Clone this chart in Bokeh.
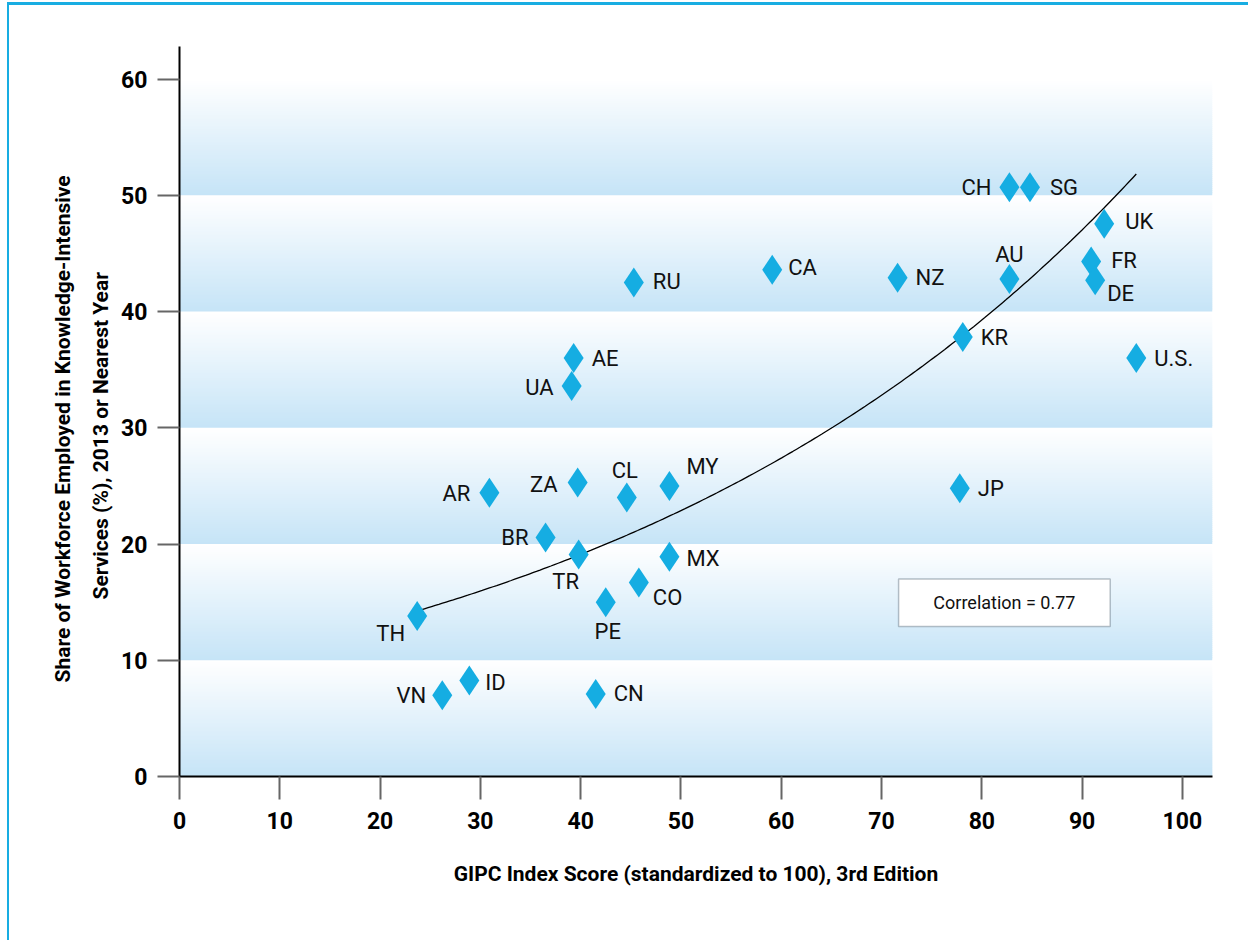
import numpy as np
from bokeh.plotting import figure
from bokeh.models import ColumnDataSource, FixedTicker, Label, BoxAnnotation, Title
from bokeh.core.properties import value, field
from bokeh.embed import file_html
from bokeh.resources import INLINE

# ---------------- data ----------------
countries = ["CH", "SG", "UK", "AU", "FR", "DE", "NZ", "CA", "RU", "KR", "U.S.",
             "AE", "UA", "JP", "AR", "ZA", "CL", "MY", "BR", "TR", "MX", "CO",
             "PE", "TH", "VN", "ID", "CN"]
gipc_score = [82.75, 84.8, 92.2, 82.75, 90.9, 91.3, 71.6, 59.1, 45.3, 78.1, 95.4,
              39.3, 39.1, 77.8, 30.9, 39.7, 44.6, 48.85, 36.5, 39.8, 48.85, 45.8,
              42.5, 23.7, 26.2, 28.9, 41.5]
kis_share = [50.7, 50.7, 47.55, 42.8, 44.3, 42.7, 42.9, 43.6, 42.5, 37.8, 36.0,
             36.0, 33.6, 24.8, 24.4, 25.3, 24.0, 25.0, 20.55, 19.1, 18.9, 16.7,
             15.0, 13.8, 7.0, 8.25, 7.1]
x_ticks = [0, 10, 20, 30, 40, 50, 60, 70, 80, 90, 100]
y_ticks = [0, 10, 20, 30, 40, 50, 60]
correlation_text = "Correlation = 0.77"
x_title = "GIPC Index Score (standardized to 100), 3rd Edition"
y_title_1 = "Share of Workforce Employed in Knowledge-Intensive"
y_title_2 = "Services (%), 2013 or Nearest Year"

# ---------------- label placement (layout only, pixels) ----------------
label_align = ["right", "left", "left", "center", "left", "left", "left", "left", "left", "left", "left",
               "left", "right", "left", "right", "right", "center", "left", "right", "center", "left", "left",
               "center", "right", "right", "left", "left"]
label_dx = [-18, 20, 21, 0, 20, 12, 18, 16, 19, 18, 18,
            18, -18, 18, -19, -20, -2, 17, -17, -13, 17, 14,
            2, -12, -16, 16, 18]
label_dy = [0, 0, -2, -24, -1, 13, 0, -2, -1, 0, 0,
            0, 2, 0, 1, 2, -27, -19, 0, 27, 2, 15,
            29, 17, 0, 2, 0]

FONT = "Roboto"
MARKER = "#15ADE2"
BAND_BLUE = np.array([198, 228, 247])

p = figure(width=1241, height=938, x_range=(0, 103), y_range=(0, 62.8),
           output_backend="svg", toolbar_location=None, title_location=None,
           min_border_left=170, min_border_right=38, min_border_top=41, min_border_bottom=167)
p.styles = {"margin-top": "2px", "margin-left": "7px",
            "border-top": "3px solid #18ADE2", "border-left": "2px solid #18ADE2"}
p.outline_line_color = None
p.background_fill_color = "white"
p.border_fill_color = "white"
p.xgrid.visible = False
p.ygrid.visible = False

# gradient bands: white at top of each 10-unit band, light blue at the bottom
n_slices = 58
lefts, rights, bottoms, tops, colors = [], [], [], [], []
for lo, hi in zip(y_ticks[:-1], y_ticks[1:]):
    edges = np.linspace(lo, hi, n_slices + 1)
    step = edges[1] - edges[0]
    for i in range(n_slices):
        t = (i + 0.5) / n_slices  # 0 bottom -> 1 top
        c = BAND_BLUE + (np.array([255, 255, 255]) - BAND_BLUE) * t
        colors.append("#%02x%02x%02x" % tuple(int(round(v)) for v in c))
        bottoms.append(edges[i])
        tops.append(min(edges[i + 1] + 0.6 * step, hi))
        lefts.append(0)
        rights.append(103)
p.quad(left=lefts, right=rights, bottom=bottoms, top=tops, fill_color=colors, line_color=None)

# exponential trend line fitted to the data
xa = np.array(gipc_score)
ya = np.array(kis_share)
b, ln_a = np.polyfit(xa, np.log(ya), 1)
xs = np.linspace(xa.min(), xa.max(), 200)
p.line(xs, np.exp(ln_a) * np.exp(b * xs), line_color="black", line_width=1.3)

src = ColumnDataSource(dict(x=gipc_score, y=kis_share, name=countries,
                            align=label_align, dx=label_dx, dy=label_dy))
p.scatter("x", "y", source=src, marker="diamond", size=30, fill_color=MARKER, line_color=None)
p.text("x", "y", text="name", source=src, text_align=field("align"), text_baseline="middle",
       x_offset=field("dx"), y_offset=field("dy"), text_font=value(FONT),
       text_font_size="22px", text_color="#111111")

# correlation box
p.add_layout(BoxAnnotation(left=71.7, right=92.8, bottom=12.9, top=17.0,
                           fill_color="white", fill_alpha=1.0, line_color="#1d3347", line_width=1.5))
p.add_layout(Label(x=82.25, y=14.95, text=correlation_text, text_align="center", text_baseline="middle",
                   text_font=FONT, text_font_size="18px", text_color="#111111"))

# axes
for ax in (p.xaxis[0], p.yaxis[0]):
    ax.axis_line_color = "black"
    ax.axis_line_width = 2
    ax.major_tick_line_color = "#666666"
    ax.major_tick_line_width = 2
    ax.major_tick_in = 0
    ax.minor_tick_line_color = None
    ax.major_label_text_font = FONT
    ax.major_label_text_font_style = "bold"
    ax.major_label_text_font_size = "23px"
    ax.major_label_text_color = "black"
p.xaxis.ticker = FixedTicker(ticks=x_ticks)
p.yaxis.ticker = FixedTicker(ticks=y_ticks)
p.xaxis.major_tick_out = 23
p.yaxis.major_tick_out = 22
p.xaxis.major_label_standoff = 12
p.yaxis.major_label_standoff = 10

p.xaxis.axis_label = x_title
p.xaxis.axis_label_text_font = FONT
p.xaxis.axis_label_text_font_style = "bold"
p.xaxis.axis_label_text_font_size = "21px"
p.xaxis.axis_label_text_color = "black"
p.xaxis.axis_label_standoff = 30

# y-axis title: two stacked lines on the left (start of each line lifted from the frame bottom)
for txt, so, off in ((y_title_2, 11, 177), (y_title_1, 14, 94)):
    p.add_layout(Title(text=txt, align="left", offset=off, standoff=so, text_font=FONT,
                       text_font_style="bold", text_font_size="21px", text_color="black"), "left")

open("out.html", "w").write(file_html(p, INLINE))
